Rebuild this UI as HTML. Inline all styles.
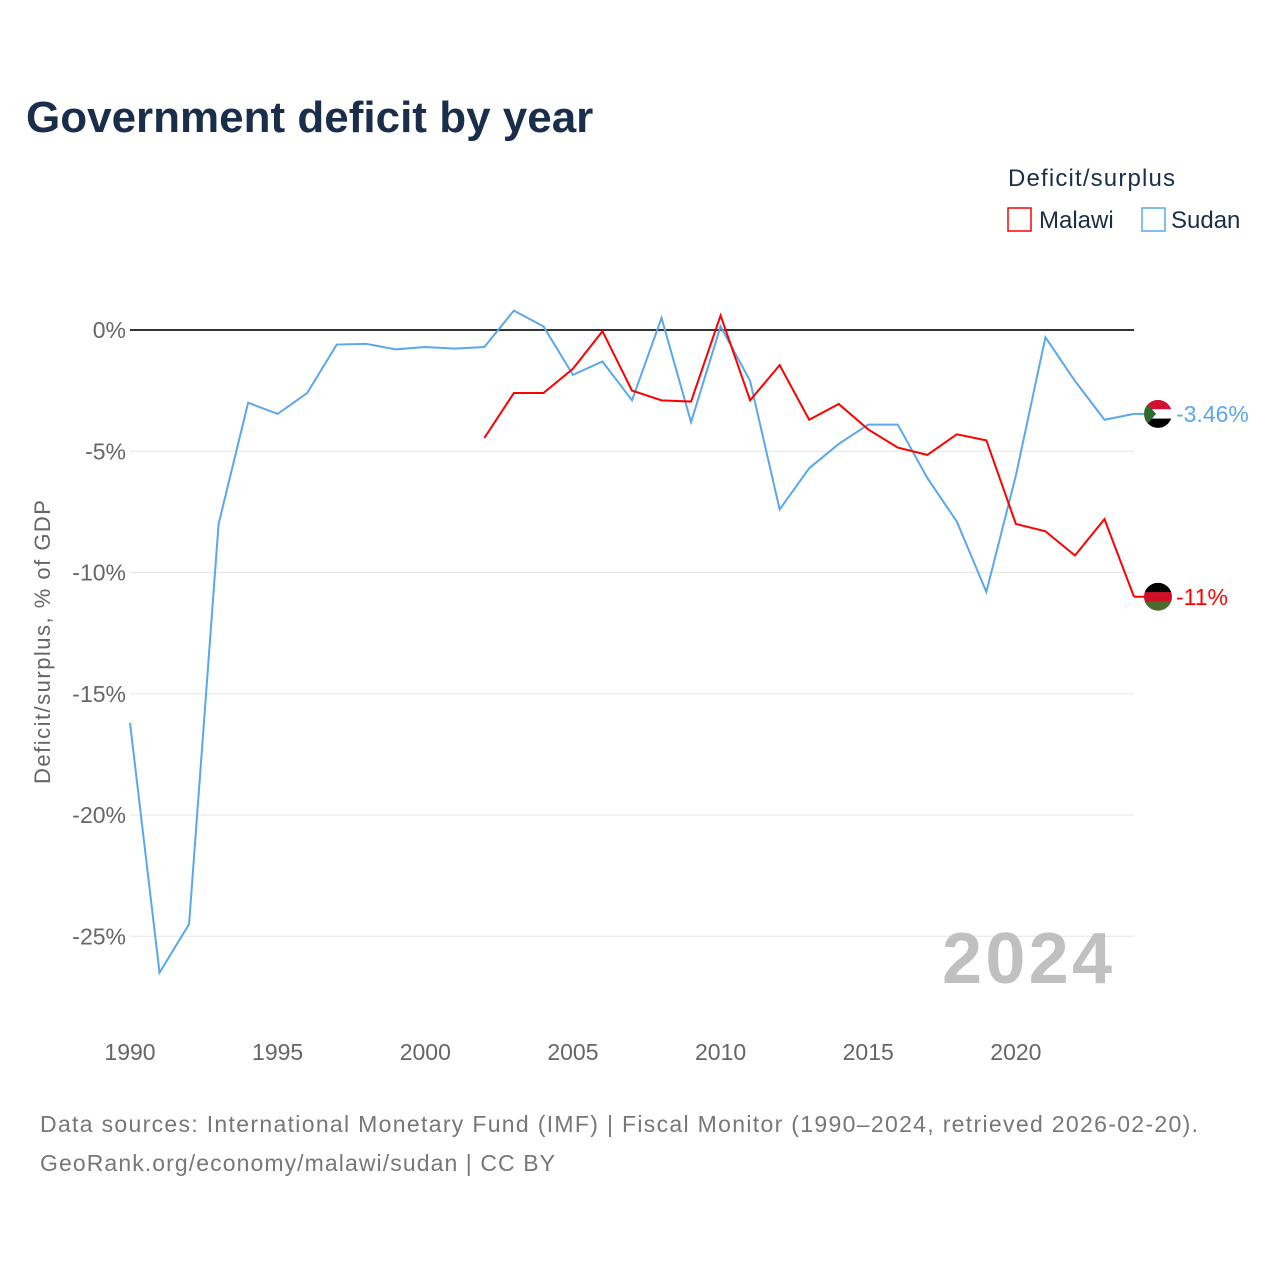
<!DOCTYPE html>
<html><head><meta charset="utf-8"><style>
body{margin:0;background:#fff;font-family:"Liberation Sans",sans-serif}
</style></head><body>
<svg id="chart" width="1280" height="1280" xmlns="http://www.w3.org/2000/svg">
<text x="26" y="132" font-size="44" font-weight="bold" fill="#1a2e4c">Government deficit by year</text>
<text x="1008" y="186" font-size="24" fill="#1a2e4c" textLength="167">Deficit/surplus</text>
<g><rect x="1008" y="208" width="23" height="23" fill="none" stroke="#f00" stroke-width="1.5"/><text x="1039" y="228" font-size="24" fill="#1a2e4c">Malawi</text></g>
<g><rect x="1142" y="208" width="23" height="23" fill="none" stroke="#5ba7ec" stroke-width="1.5"/><text x="1171" y="228" font-size="24" fill="#1a2e4c">Sudan</text></g>
<g id="grid"></g>
<text x="1112" y="983" font-size="72" font-weight="bold" fill="#c0c0c0" text-anchor="end" textLength="170">2024</text>
<text transform="translate(50,642) rotate(-90)" font-size="22" fill="#666" text-anchor="middle" textLength="284">Deficit/surplus, % of GDP</text>
<g id="series"></g>
<text x="40" y="1132" font-size="23" fill="#777" textLength="1158">Data sources: International Monetary Fund (IMF) | Fiscal Monitor (1990–2024, retrieved 2026-02-20).</text>
<text x="40" y="1171" font-size="23" fill="#777" textLength="515">GeoRank.org/economy/malawi/sudan | CC BY</text>
</svg>
<script>
const yTicks=[0,-5,-10,-15,-20,-25];
const xTicks=[1990,1995,2000,2005,2010,2015,2020];
const sudanYears=[1990,1991,1992,1993,1994,1995,1996,1997,1998,1999,2000,2001,2002,2003,2004,2005,2006,2007,2008,2009,2010,2011,2012,2013,2014,2015,2016,2017,2018,2019,2020,2021,2022,2023,2024];
const sudanValues=[-16.2,-26.5,-24.5,-8.0,-3.0,-3.46,-2.6,-0.6,-0.57,-0.8,-0.7,-0.77,-0.7,0.8,0.15,-1.85,-1.3,-2.9,0.5,-3.8,0.15,-2.1,-7.4,-5.7,-4.7,-3.9,-3.9,-6.1,-7.9,-10.8,-6.0,-0.3,-2.1,-3.7,-3.46];
const malawiYears=[2002,2003,2004,2005,2006,2007,2008,2009,2010,2011,2012,2013,2014,2015,2016,2017,2018,2019,2020,2021,2022,2023,2024];
const malawiValues=[-4.45,-2.6,-2.6,-1.6,-0.05,-2.5,-2.9,-2.95,0.6,-2.9,-1.45,-3.7,-3.05,-4.1,-4.85,-5.15,-4.3,-4.55,-8.0,-8.3,-9.3,-7.8,-11.0];
const X=y=>130+(y-1990)*(1134-130)/34;
const Y=v=>330-v*24.25;
const NS="http://www.w3.org/2000/svg";
const grid=document.getElementById('grid'),ser=document.getElementById('series');
function mk(tag,attrs,parent){const e=document.createElementNS(NS,tag);for(const k in attrs)e.setAttribute(k,attrs[k]);parent.appendChild(e);return e;}
yTicks.forEach(t=>{
 const l=mk('line',{x1:130,x2:1134,y1:Y(t),y2:Y(t),stroke:t===0?'#333':'#e6e6e6','stroke-width':t===0?2:1},grid);
 
 
 const tx=mk('text',{x:126,y:Y(t)+8,'font-size':23,fill:'#666','text-anchor':'end'},grid);
 tx.textContent=t+'%';
 
 
});
xTicks.forEach(t=>{
 const tx=mk('text',{x:X(t),y:1060,'font-size':23,fill:'#666','text-anchor':'middle'},grid);
 tx.textContent=t;
 
 
});
function line(years,vals,color,name){
 const p=mk('polyline',{points:years.map((y,i)=>X(y)+','+Y(vals[i])).join(' '),fill:'none',stroke:color,'stroke-width':2},ser);
 
 
}
line(sudanYears,sudanValues,'#5ba7ec','sudan-line');
line(malawiYears,malawiValues,'#f00','malawi-line');
function endLabel(v,color,name,flag){
 const x=X(2024)+24,y=Y(v);
 mk('line',{x1:X(2024),x2:x,y1:y,y2:y,stroke:color,'stroke-width':2},ser);
 const g=mk('g',{},ser);
 
 
 const cid='c'+name;
 const cp=mk('clipPath',{id:cid},g);mk('circle',{cx:x,cy:y,r:14},cp);
 const gg=mk('g',{'clip-path':'url(#'+cid+')'},g);
 flag.forEach((c,i)=>mk('rect',{x:x-14,y:y-14+i*28/3,width:28,height:28/3+0.5,fill:c},gg));
 if(name==='sudan')mk('polygon',{points:`${x-14},${y-14} ${x-2},${y} ${x-14},${y+14}`,fill:'#2e6b2e'},gg);
 const t=mk('text',{x:x+18,y:y+8,'font-size':23,fill:color},ser);
 t.textContent=(Math.round(v*100)/100)+'%';
 
 
}
endLabel(sudanValues[sudanValues.length-1],'#5ba7ec','sudan',['#d21034','#fff','#000']);
endLabel(malawiValues[malawiValues.length-1],'#f00','malawi',['#000','#ce1126','#4a6b2e']);
</script>
</body></html>
